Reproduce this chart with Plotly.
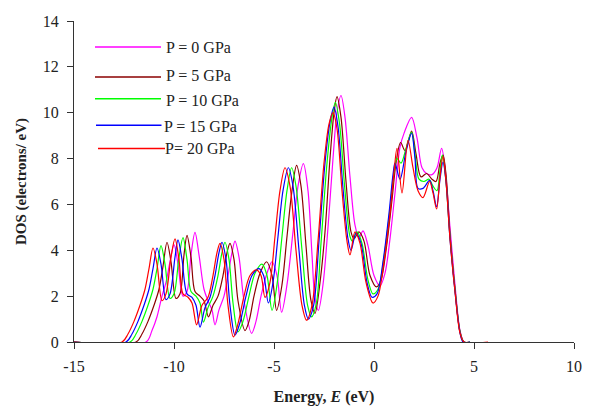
import plotly.graph_objects as go

# (Energy eV, DOS electrons/eV)
dos_p0 = [(-15, 0), (-11.4, 0), (-11.1, 0.5), (-10.85, 1.1), (-10.6, 2.0), (-10.4, 2.6), (-10.2, 3.5), (-10.0, 4.25),
          (-9.8, 3.4), (-9.55, 2.0), (-9.35, 2.2), (-9.15, 3.8), (-8.95, 4.78), (-8.75, 3.8), (-8.5, 2.3), (-8.3, 1.8),
          (-8.1, 1.4), (-7.95, 0.75), (-7.75, 1.4), (-7.5, 2.0), (-7.3, 2.9), (-7.1, 3.9), (-6.95, 4.4), (-6.75, 3.7),
          (-6.5, 1.8), (-6.12, 0.38), (-5.9, 0.9), (-5.65, 2.0), (-5.35, 3.0), (-5.1, 3.5), (-4.85, 2.9), (-4.62, 1.3),
          (-4.35, 2.5), (-4.05, 4.8), (-3.8, 6.8), (-3.53, 7.78), (-3.3, 6.6), (-3.1, 3.8), (-2.95, 1.9), (-2.78, 1.38),
          (-2.55, 2.5), (-2.3, 5.0), (-2.05, 8.0), (-1.85, 10.0), (-1.65, 10.75), (-1.45, 9.8), (-1.2, 7.2), (-0.95, 5.1),
          (-0.75, 4.55), (-0.55, 4.85), (-0.3, 4.2), (0.0, 2.9), (0.3, 2.45), (0.55, 3.0), (0.8, 4.5), (1.05, 6.5),
          (1.3, 8.5), (1.5, 9.1), (1.88, 9.8), (2.15, 8.9), (2.4, 7.6), (2.63, 7.35), (2.9, 7.3), (3.15, 7.6),
          (3.38, 8.45), (3.55, 7.6), (3.8, 5.0), (4.05, 2.5), (4.3, 0.5), (4.5, 0), (4.8, 0)]

dos_p5 = [(-15, 0), (-11.9, 0), (-11.6, 0.35), (-11.3, 0.9), (-11.0, 1.6), (-10.75, 2.3), (-10.55, 3.3), (-10.35, 4.35),
          (-10.15, 3.5), (-9.9, 1.9), (-9.7, 2.1), (-9.5, 3.8), (-9.35, 4.65), (-9.15, 3.7), (-8.95, 2.2), (-8.7, 2.0),
          (-8.5, 1.8), (-8.28, 1.1), (-8.05, 1.6), (-7.8, 2.0), (-7.55, 2.9), (-7.35, 3.9), (-7.2, 4.3), (-7.0, 3.6),
          (-6.8, 1.8), (-6.45, 0.5), (-6.25, 0.9), (-6.0, 2.0), (-5.7, 3.0), (-5.37, 3.5), (-5.1, 2.9), (-4.87, 1.38),
          (-4.6, 2.5), (-4.35, 4.6), (-4.1, 6.6), (-3.87, 7.7), (-3.65, 6.8), (-3.4, 4.2), (-3.15, 1.8), (-2.95, 1.25),
          (-2.7, 2.6), (-2.45, 4.8), (-2.2, 8.0), (-2.0, 10.0), (-1.85, 10.7), (-1.65, 9.8), (-1.4, 7.0), (-1.15, 4.8),
          (-1.0, 4.5), (-0.75, 4.8), (-0.5, 4.4), (-0.2, 2.9), (0.13, 2.4), (0.35, 2.7), (0.6, 4.0), (0.9, 6.2),
          (1.1, 7.8), (1.33, 8.7), (1.55, 8.35), (1.88, 9.2), (2.1, 8.2), (2.35, 7.2), (2.63, 7.35), (2.9, 7.1),
          (3.1, 7.0), (3.3, 7.8), (3.45, 8.15), (3.6, 7.3), (3.8, 4.7), (4.05, 2.3), (4.3, 0.45), (4.5, 0), (4.8, 0)]

dos_p10 = [(-15, 0), (-12.2, 0), (-11.9, 0.35), (-11.6, 0.9), (-11.3, 1.6), (-11.05, 2.3), (-10.85, 3.2), (-10.65, 4.2),
           (-10.45, 3.4), (-10.2, 1.9), (-10.0, 2.1), (-9.75, 3.7), (-9.55, 4.55), (-9.35, 3.6), (-9.15, 2.2), (-8.9, 2.0),
           (-8.7, 1.7), (-8.53, 0.87), (-8.3, 1.5), (-8.05, 2.0), (-7.8, 2.9), (-7.6, 3.9), (-7.45, 4.35), (-7.25, 3.6),
           (-7.05, 1.7), (-6.8, 0.44), (-6.55, 0.9), (-6.25, 2.0), (-5.95, 3.0), (-5.6, 3.4), (-5.35, 2.9), (-5.1, 1.38),
           (-4.85, 2.5), (-4.6, 4.6), (-4.35, 6.6), (-4.12, 7.6), (-3.9, 6.8), (-3.6, 4.0), (-3.32, 1.6), (-3.12, 1.1),
           (-2.88, 1.7), (-2.65, 4.3), (-2.35, 7.8), (-2.1, 9.8), (-1.93, 10.45), (-1.72, 9.5), (-1.47, 6.8), (-1.2, 4.6),
           (-1.08, 4.4), (-0.85, 4.8), (-0.6, 4.3), (-0.3, 2.7), (-0.05, 2.1), (0.2, 2.3), (0.5, 3.7), (0.8, 5.8),
           (1.0, 7.4), (1.15, 8.0), (1.35, 7.8), (1.62, 8.5), (1.88, 9.15), (2.05, 8.2), (2.25, 7.1), (2.5, 7.0),
           (2.75, 7.1), (2.95, 6.8), (3.15, 6.6), (3.3, 7.5), (3.42, 8.15), (3.58, 7.2), (3.8, 4.6), (4.05, 2.3),
           (4.3, 0.45), (4.48, 0), (4.8, 0)]

dos_p15 = [(-15, 0), (-12.4, 0), (-12.1, 0.35), (-11.8, 0.9), (-11.5, 1.6), (-11.25, 2.3), (-11.05, 3.2), (-10.85, 4.1),
           (-10.65, 3.4), (-10.4, 1.85), (-10.2, 2.1), (-9.95, 3.7), (-9.8, 4.45), (-9.6, 3.6), (-9.35, 2.1), (-9.1, 1.95),
           (-8.9, 1.6), (-8.7, 0.65), (-8.45, 1.5), (-8.2, 1.95), (-7.95, 2.9), (-7.75, 3.9), (-7.6, 4.35), (-7.4, 3.6),
           (-7.2, 1.6), (-6.95, 0.3), (-6.7, 0.85), (-6.4, 2.0), (-6.1, 2.9), (-5.75, 3.2), (-5.52, 2.9), (-5.28, 1.7),
           (-5.05, 2.6), (-4.8, 4.6), (-4.55, 6.6), (-4.28, 7.6), (-4.05, 6.8), (-3.75, 4.0), (-3.48, 1.6), (-3.28, 1.0),
           (-3.02, 1.6), (-2.75, 4.4), (-2.45, 7.8), (-2.2, 9.6), (-2.0, 10.25), (-1.8, 9.4), (-1.55, 6.7), (-1.3, 4.5),
           (-1.15, 4.0), (-0.9, 4.75), (-0.65, 4.3), (-0.35, 2.6), (-0.1, 1.95), (0.15, 2.1), (0.45, 3.5), (0.75, 5.6),
           (0.95, 7.3), (1.05, 7.8), (1.3, 7.1), (1.6, 8.3), (1.88, 9.1), (2.05, 8.0), (2.2, 6.7), (2.45, 6.7),
           (2.78, 7.05), (2.95, 6.6), (3.13, 5.9), (3.3, 7.1), (3.45, 7.85), (3.6, 7.0), (3.8, 4.5), (4.05, 2.2),
           (4.3, 0.4), (4.45, 0), (4.8, 0)]

dos_p20 = [(-15, 0), (-12.6, 0), (-12.3, 0.35), (-12.0, 0.9), (-11.7, 1.6), (-11.45, 2.3), (-11.25, 3.2), (-11.05, 4.1),
           (-10.85, 3.4), (-10.6, 1.8), (-10.4, 2.1), (-10.15, 3.7), (-9.95, 4.5), (-9.75, 3.6), (-9.55, 2.1), (-9.3, 1.95),
           (-9.1, 1.7), (-8.87, 0.75), (-8.6, 1.6), (-8.3, 1.95), (-8.05, 2.9), (-7.85, 3.9), (-7.7, 4.3), (-7.5, 3.6),
           (-7.3, 1.6), (-7.03, 0.22), (-6.8, 0.8), (-6.5, 2.0), (-6.2, 2.9), (-5.87, 3.15), (-5.65, 2.9), (-5.45, 1.95),
           (-5.2, 2.6), (-4.95, 4.6), (-4.7, 6.6), (-4.45, 7.6), (-4.2, 6.8), (-3.9, 4.0), (-3.6, 1.6), (-3.37, 0.95),
           (-3.1, 1.6), (-2.8, 4.4), (-2.5, 7.8), (-2.25, 9.5), (-2.05, 10.0), (-1.85, 9.3), (-1.6, 6.6), (-1.35, 4.4),
           (-1.2, 3.8), (-0.95, 4.8), (-0.7, 4.3), (-0.4, 2.6), (-0.05, 1.7), (0.2, 2.0), (0.5, 3.5), (0.8, 5.6),
           (1.0, 7.4), (1.15, 8.45), (1.4, 6.5), (1.7, 8.8), (1.95, 7.6), (2.2, 6.6), (2.45, 6.3), (2.78, 7.0),
           (2.95, 6.5), (3.13, 5.8), (3.3, 7.2), (3.45, 8.1), (3.6, 7.0), (3.8, 4.5), (4.05, 2.2), (4.3, 0.4),
           (4.5, 0), (5.7, 0)]

series_names = ["P = 0 GPa", "P = 5 GPa", "P = 10 GPa", "P = 15 GPa", "P= 20 GPa"]
series_data = [dos_p0, dos_p5, dos_p10, dos_p15, dos_p20]
series_colors = ["#FF00FF", "#8B0000", "#00FF00", "#0000FF", "#FF0000"]

x_ticks = [-15, -10, -5, 0, 5, 10]
x_ticktext = ["-15", "-10", "-5", "0", "5", "10"]
y_ticks = [0, 2, 4, 6, 8, 10, 12, 14]

FONT = "Liberation Serif, Times New Roman, serif"

fig = go.Figure()
for name, data, col in zip(series_names, series_data, series_colors):
    xs = [p[0] for p in data]
    ys = [p[1] for p in data]
    fig.add_trace(go.Scatter(x=xs, y=ys, mode="lines", name=name,
                             line=dict(color=col, width=1.2, shape="spline", smoothing=0.9),
                             showlegend=False, hoverinfo="skip"))

# manual legend (long line samples like the reference)
leg_line_y = [0.919, 0.8255, 0.758, 0.675, 0.6025]
leg_text_y = [0.919, 0.831, 0.751, 0.672, 0.603]
leg_x0 = [0.042, 0.042, 0.042, 0.044, 0.048]
leg_x1 = [0.174, 0.174, 0.174, 0.175, 0.182]
leg_tx = [0.180, 0.179, 0.180, 0.176, 0.178]
shapes = []
annotations = []
for i, (name, col) in enumerate(zip(series_names, series_colors)):
    shapes.append(dict(type="line", xref="paper", yref="paper", x0=leg_x0[i], x1=leg_x1[i],
                       y0=leg_line_y[i], y1=leg_line_y[i], line=dict(color=col, width=1.5)))
    annotations.append(dict(xref="paper", yref="paper", x=leg_tx[i], y=leg_text_y[i], text=name,
                            showarrow=False, xanchor="left", yanchor="middle",
                            font=dict(family=FONT, size=16, color="#222")))

fig.update_layout(
    width=592, height=406,
    margin=dict(l=74, r=18, t=21, b=64),
    paper_bgcolor="white", plot_bgcolor="white",
    shapes=shapes, annotations=annotations,
    showlegend=False,
    font=dict(family=FONT, size=14, color="#222"),
)
fig.update_xaxes(range=[-15, 10], tickvals=x_ticks, ticktext=x_ticktext, ticks="outside", ticklen=6,
                 tickcolor="#333", showline=True, linecolor="#333", linewidth=1, showgrid=False, zeroline=False,
                 tickfont=dict(family=FONT, size=16, color="#222"), ticklabelstandoff=4, automargin=False,
                 title=dict(text="<b>Energy, <i>E</i> (eV)</b>", font=dict(family=FONT, size=16, color="#222"),
                            standoff=16))
fig.update_yaxes(range=[0, 14], tickvals=y_ticks, ticks="outside", ticklen=6, tickcolor="#333",
                 showline=True, linecolor="#333", linewidth=1, showgrid=False, zeroline=False,
                 tickfont=dict(family=FONT, size=16, color="#222"), ticklabelstandoff=5, automargin=False,
                 title=dict(text="<b>DOS (electrons/ eV)</b>", font=dict(family=FONT, size=15, color="#222"),
                            standoff=12))

fig.write_html("out.html")
